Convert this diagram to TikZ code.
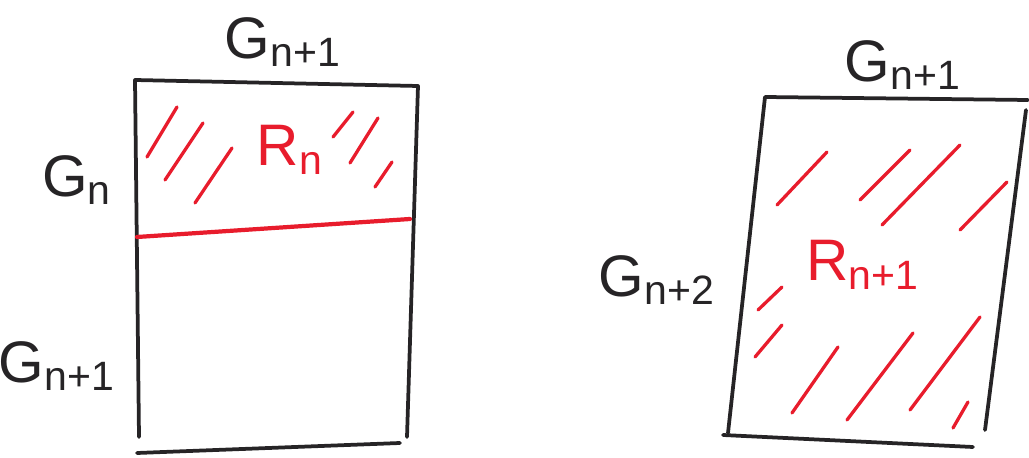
\documentclass[tikz,border=0pt]{standalone}
\usepackage{fontspec}
\setmainfont{Liberation Sans}
\usepackage{xcolor}
\definecolor{skred}{RGB}{232,28,44}
\definecolor{skink}{RGB}{38,36,38}
\usetikzlibrary{positioning}

\begin{document}
\begin{tikzpicture}[x=0.015cm,y=-0.015cm,
    every node/.style={font=\fontsize{25}{28}\selectfont,inner sep=0pt},
    ink/.style={skink,line width=1.6pt,line cap=round,line join=round},
    hatch/.style={skred,line width=1.4pt,line cap=round},
    lbl/.style={text=skink},
    rlbl/.style={text=skred}]
  \useasboundingbox (0,0) rectangle (1029,458);

  %% Left block
  \coordinate (ltl) at (135,80);
  \coordinate (ltr) at (418,86);
  \coordinate (lbr) at (407,437);
  \coordinate (lbl) at (139,437);
  \draw[ink] (lbl) -- (ltl) -- (ltr) -- (lbr);
  \draw[ink] (137,453) -- (400,443);
  \coordinate (cutl) at (137,237);
  \coordinate (cutr) at (410,219);
  \draw[skred,line width=1.8pt,line cap=round] (cutl) -- (cutr);

  \node[rlbl] (rn) at (290,150) {R\textsubscript{n}};
  \node[lbl] (gtop) at (283,42) {G\textsubscript{n+1}};
  \node[lbl] (gn) at (77,180) {G\textsubscript{n}};
  \node[lbl] (gbot) at (57,366) {G\textsubscript{n+1}};

  \draw[hatch] (177,107) -- (147,157)  (203,123) -- (165,180)
               (232,148) -- (195,203)  (353,112) -- (333,137)
               (378,118) -- (350,163)  (392,162) -- (375,187);

  %% Right block
  \coordinate (rtl) at (765,97);
  \coordinate (rtr) at (1028,100);
  \coordinate (rbr) at (985,430);
  \coordinate (rbl) at (728,433);
  \draw[ink] (rbl) -- (rtl) -- (rtr);
  \draw[ink] (1026,110) -- (rbr);
  \draw[ink] (723,435) -- (973,447);

  \node[rlbl] (rn1) at (863,265) {R\textsubscript{n+1}};
  \node[lbl] (gtop2) at (903,65) {G\textsubscript{n+1}};
  \node[lbl] (gn2) at (657,280) {G\textsubscript{n+2}};

  \draw[hatch] (827,152) -- (777,205)  (910,150) -- (860,200)
               (960,145) -- (882,225)  (1007,182) -- (960,230)
               (782,287) -- (758,310)  (782,325) -- (755,357)
               (838,347) -- (792,413)  (913,333) -- (847,420)
               (980,317) -- (910,410)  (968,402) -- (953,428);
\end{tikzpicture}
\end{document}
